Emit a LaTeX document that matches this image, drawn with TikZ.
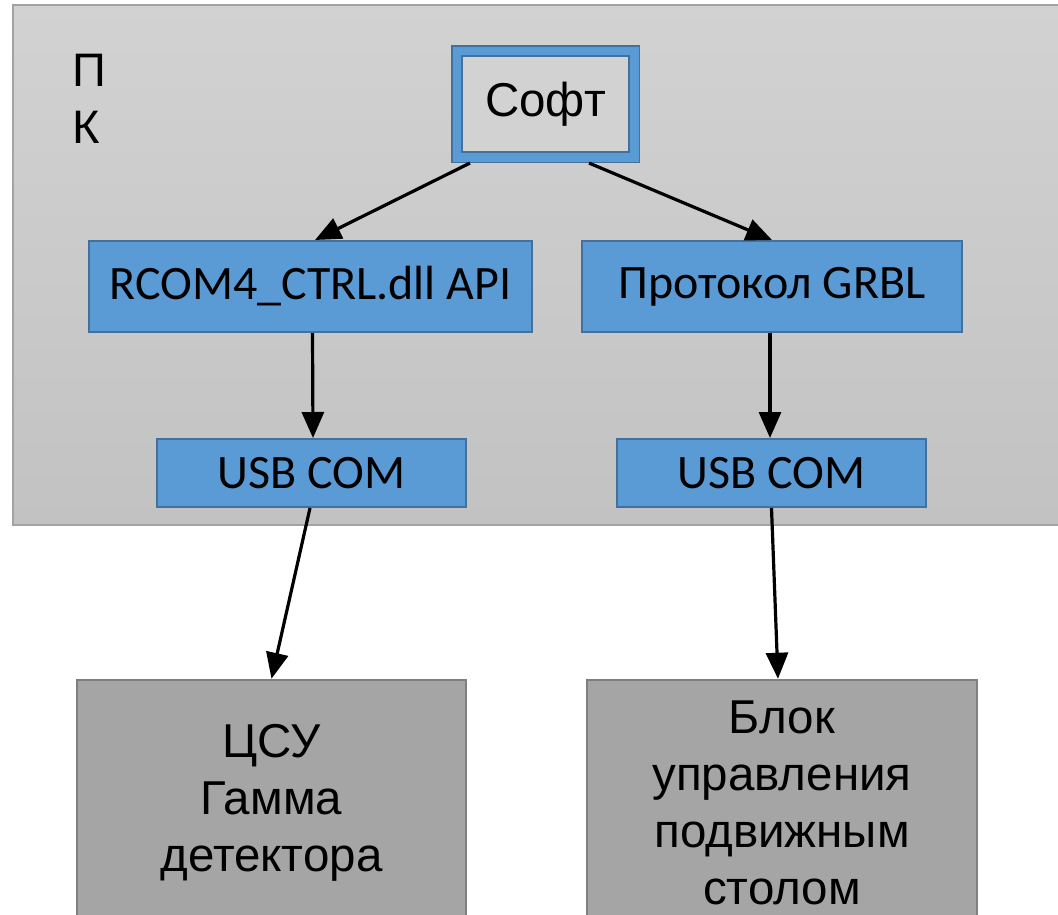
\documentclass[tikz,border=0pt]{standalone}
\usepackage{fontspec}
\setmainfont{Liberation Sans}
\newfontfamily\carlitofont{Carlito}
\usetikzlibrary{arrows.meta,calc}
\definecolor{pcfillT}{HTML}{D2D2D2}
\definecolor{pcfillB}{HTML}{C2C2C2}
\definecolor{pcedge}{HTML}{A3A3A3}
\definecolor{bluefill}{HTML}{5B9BD5}
\definecolor{blueedge}{HTML}{41719C}
\definecolor{devfill}{HTML}{A5A5A5}
\definecolor{devedge}{HTML}{7F7F7F}
\tikzset{
  bluebox/.style={draw=blueedge, fill=bluefill, line width=2pt, inner sep=0pt,
    font=\carlitofont\fontsize{48}{56}\selectfont},
  devbox/.style={draw=devedge, fill=devfill, line width=2.5pt, inner sep=0pt,
    align=center, font=\fontsize{47.5}{57}\selectfont},
  arr/.style={line width=3.2pt, -{Triangle[length=26pt,width=22pt]}},
}
\begin{document}
\begin{tikzpicture}[x=1pt,y=-1pt]
\useasboundingbox (0,0) rectangle (1058,914);
\clip (0,0) rectangle (1058,914);
\fill[white] (0,0) rectangle (1058,914);

% PC enclosure
\shade[top color=pcfillT, bottom color=pcfillB] (13,5) rectangle (1070,525);
\draw[pcedge, line width=2pt] (1070,5) -- (13,5) -- (13,525) -- (1070,525);
\node[anchor=north west, align=left, inner sep=0pt, font=\fontsize{47}{57}\selectfont]
  (pk) at (72,54) {П\\К};

% software block with double blue frame
\node[draw=blueedge, line width=1.6pt, double=bluefill, double distance=8.5pt,
  fill=pcfillT, minimum width=177.5pt, minimum height=106.5pt, inner sep=0pt,
  font=\fontsize{47.5}{52}\selectfont] (soft) at (545.5,104) {Софт};

% interface layer
\node[bluebox, minimum width=443pt, minimum height=91pt] (rcom) at (310.5,286.5) {RCOM4\_CTRL.dll API};
\node[bluebox, minimum width=380pt, minimum height=91pt] (grbl) at (772,286.5) {Протокол GRBL};
\node[bluebox, minimum width=309pt, minimum height=68pt] (usbL) at (311.5,473) {USB COM};
\node[bluebox, minimum width=309pt, minimum height=68pt] (usbR) at (771.5,473) {USB COM};

% external devices
\node[devbox, minimum width=389pt, minimum height=246pt] (detL) at (271.5,803) {ЦСУ\\Гамма\\детектора};
\node[devbox, minimum width=390pt, minimum height=246pt] (detR) at (782,803) {Блок\\управления\\подвижным\\столом};

% connections
\draw[arr] ($(soft.south west)+(14,5)$) -- ($(rcom.north)+(4.5,0)$);
\draw[arr] ($(soft.south east)+(-46,5)$) -- (grbl.north);
\draw[arr] ($(rcom.south)+(2,0)$) -- ($(usbL.north)+(1.5,0)$);
\draw[arr] ($(grbl.south)+(-2,0)$) -- ($(usbR.north)+(-1.5,0)$);
\draw[arr] ($(usbL.south)+(-1.5,0)$) -- (detL.north);
\draw[arr] (usbR.south) -- ($(detR.north)+(-4,0)$);
\end{tikzpicture}
\end{document}
